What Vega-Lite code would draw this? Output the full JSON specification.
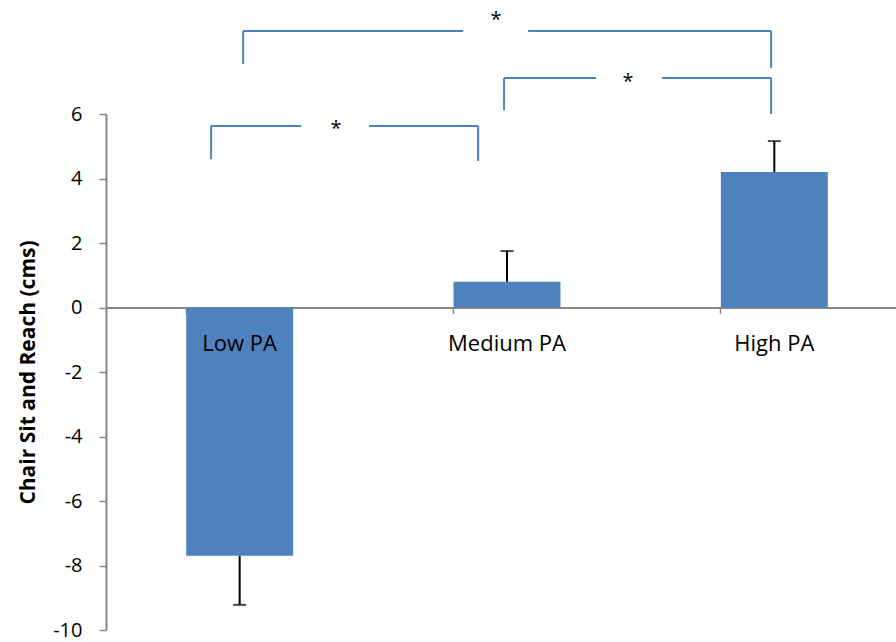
{
  "$schema": "https://vega.github.io/schema/vega-lite/v6.json",
  "autosize": "none",
  "width": 802,
  "height": 516,
  "padding": {"left": 106, "top": 114, "right": 0, "bottom": 12},
  "background": "white",
  "config": {
    "view": {"stroke": null},
    "font": "Open Sans",
    "axis": {"grid": false}
  },
  "datasets": {
    "bars": [
      {"group": "Low PA", "mean": -7.7, "err": -9.22},
      {"group": "Medium PA", "mean": 0.8, "err": 1.75},
      {"group": "High PA", "mean": 4.2, "err": 5.16}
    ],
    "segs": [
      {"x1": 0.393, "x2": 0.393, "y1": 4.6, "y2": 5.63},
      {"x1": 0.393, "x2": 0.73, "y1": 5.63, "y2": 5.63},
      {"x1": 0.984, "x2": 1.392, "y1": 5.63, "y2": 5.63},
      {"x1": 1.392, "x2": 1.392, "y1": 5.63, "y2": 4.54},
      {"x1": 1.489, "x2": 1.489, "y1": 6.12, "y2": 7.12},
      {"x1": 1.489, "x2": 1.833, "y1": 7.12, "y2": 7.12},
      {"x1": 2.08, "x2": 2.488, "y1": 7.12, "y2": 7.12},
      {"x1": 2.488, "x2": 2.488, "y1": 7.12, "y2": 6.0},
      {"x1": 0.513, "x2": 0.513, "y1": 7.55, "y2": 8.57},
      {"x1": 0.513, "x2": 1.336, "y1": 8.57, "y2": 8.57},
      {"x1": 1.579, "x2": 2.488, "y1": 8.57, "y2": 8.57},
      {"x1": 2.488, "x2": 2.488, "y1": 8.57, "y2": 7.43}
    ],
    "stars": [
      {"sx": 0.86, "sy": 5.55, "label": "*"},
      {"sx": 1.953, "sy": 7.0, "label": "*"},
      {"sx": 1.459, "sy": 8.9, "label": "*"}
    ]
  },
  "layer": [
    {
      "data": {"name": "bars"},
      "layer": [
        {
          "mark": {"type": "bar", "color": "#4F81BD"},
          "encoding": {
            "x": {
              "field": "group", "type": "nominal",
              "sort": ["Low PA", "Medium PA", "High PA"],
              "scale": {"paddingInner": 0.6, "paddingOuter": 0.3},
              "axis": {
                "title": null, "labels": false, "bandPosition": 0,
                "offset": -322.5, "domainColor": "#868686", "domainWidth": 2,
                "tickColor": "#868686", "tickWidth": 1.5, "tickSize": 6
              }
            },
            "y": {
              "field": "mean", "type": "quantitative",
              "scale": {"domain": [-10, 6], "nice": false, "zero": false},
              "axis": {
                "values": [-10, -8, -6, -4, -2, 0, 2, 4, 6],
                "labelExpr": "replace(datum.label, '−', '-')",
                "title": "Chair Sit and Reach (cms)",
                "titleFontSize": 21, "titleFontWeight": "bold", "titleColor": "black",
                "titlePadding": 14,
                "labelFontSize": 20, "labelColor": "black", "labelPadding": 17,
                "domainColor": "#868686", "domainWidth": 2,
                "tickColor": "#868686", "tickWidth": 1.5, "tickSize": 7
              }
            }
          }
        },
        {
          "mark": {"type": "rule", "color": "black", "strokeWidth": 2},
          "encoding": {
            "x": {"field": "group", "type": "nominal", "sort": ["Low PA", "Medium PA", "High PA"]},
            "y": {"field": "mean", "type": "quantitative"},
            "y2": {"field": "err"}
          }
        },
        {
          "mark": {"type": "tick", "color": "black", "orient": "horizontal", "size": 13, "thickness": 2},
          "encoding": {
            "x": {"field": "group", "type": "nominal", "sort": ["Low PA", "Medium PA", "High PA"]},
            "y": {"field": "err", "type": "quantitative"}
          }
        },
        {
          "mark": {"type": "text", "fontSize": 22, "color": "black", "dy": 36, "font": "Open Sans"},
          "encoding": {
            "x": {"field": "group", "type": "nominal", "sort": ["Low PA", "Medium PA", "High PA"]},
            "y": {"datum": 0, "type": "quantitative"},
            "text": {"field": "group"}
          }
        }
      ]
    },
    {
      "data": {"name": "segs"},
      "mark": {"type": "rule", "color": "#4F81BD", "strokeWidth": 2},
      "encoding": {
        "x": {"field": "x1", "type": "quantitative", "scale": {"domain": [0, 3], "nice": false, "zero": false}, "axis": null},
        "x2": {"field": "x2"},
        "y": {"field": "y1", "type": "quantitative"},
        "y2": {"field": "y2"}
      }
    },
    {
      "data": {"name": "stars"},
      "mark": {"type": "text", "fontSize": 20, "color": "black", "baseline": "middle"},
      "encoding": {
        "x": {"field": "sx", "type": "quantitative", "scale": {"domain": [0, 3], "nice": false, "zero": false}, "axis": null},
        "y": {"field": "sy", "type": "quantitative"},
        "text": {"field": "label"}
      }
    }
  ],
  "resolve": {"scale": {"x": "independent"}}
}
